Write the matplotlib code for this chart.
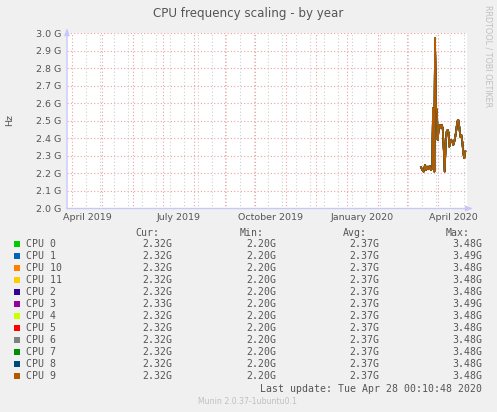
import matplotlib
matplotlib.use("Agg")
import matplotlib.pyplot as plt
import matplotlib.dates as mdates
from matplotlib.patches import Rectangle
import pandas as pd

W, H = 497, 412

# readings (GHz) taken off the year graph, same for every core
sample_times = [
    "2020-03-14 17:00", "2020-03-16 00:00", "2020-03-17 10:00", "2020-03-18 17:00",
    "2020-03-19 17:00", "2020-03-20 17:00", "2020-03-22 00:00", "2020-03-23 10:00",
    "2020-03-24 17:00", "2020-03-26 00:00", "2020-03-26 17:00", "2020-03-27 10:00",
    "2020-03-28 00:00", "2020-03-28 17:00", "2020-03-29 17:00", "2020-03-30 17:00",
    "2020-03-31 10:00", "2020-04-01 10:00", "2020-04-02 10:00", "2020-04-03 10:00",
    "2020-04-04 10:00", "2020-04-05 10:00", "2020-04-06 10:00", "2020-04-07 10:00",
    "2020-04-08 10:00", "2020-04-09 10:00", "2020-04-10 10:00", "2020-04-11 10:00",
    "2020-04-12 00:00", "2020-04-13 00:00", "2020-04-14 00:00", "2020-04-15 00:00",
    "2020-04-16 00:00", "2020-04-17 00:00", "2020-04-18 00:00", "2020-04-19 00:00",
    "2020-04-20 00:00", "2020-04-21 00:00", "2020-04-22 00:00", "2020-04-23 00:00",
    "2020-04-24 00:00", "2020-04-25 00:00", "2020-04-26 00:00", "2020-04-27 00:00",
    "2020-04-28 00:00",
]
freq_ghz = [
    2.236, 2.220, 2.211, 2.249, 2.220, 2.239, 2.224, 2.243, 2.220, 2.230,
    2.572, 2.562, 2.211, 2.971, 2.581, 2.544, 2.391, 2.458, 2.477, 2.458,
    2.477, 2.458, 2.344, 2.211, 2.373, 2.439, 2.448, 2.430, 2.353, 2.382,
    2.391, 2.382, 2.363, 2.382, 2.410, 2.448, 2.496, 2.505, 2.467, 2.410,
    2.420, 2.382, 2.315, 2.287, 2.325,
]

cpu_labels = ["CPU 0", "CPU 1", "CPU 10", "CPU 11", "CPU 2", "CPU 3",
              "CPU 4", "CPU 5", "CPU 6", "CPU 7", "CPU 8", "CPU 9"]
cpu_colors = ["#00CC00", "#0066B3", "#FF8000", "#FFCC00", "#330099", "#990099",
              "#CCFF00", "#FF0000", "#808080", "#008F00", "#00487D", "#B35A00"]
cur_vals = ["2.32G"] * 5 + ["2.33G"] + ["2.32G"] * 6
min_vals = ["2.20G"] * 12
avg_vals = ["2.37G"] * 12
max_vals = ["3.48G", "3.49G", "3.48G", "3.48G", "3.48G", "3.49G",
            "3.48G", "3.48G", "3.48G", "3.48G", "3.48G", "3.48G"]

y_ticks = [2.0, 2.1, 2.2, 2.3, 2.4, 2.5, 2.6, 2.7, 2.8, 2.9, 3.0]
x_label_dates = ["2019-04-16", "2019-07-16", "2019-10-16", "2020-01-16", "2020-04-16"]
x_label_text = ["April 2019", "July 2019", "October 2019", "January 2020", "April 2020"]

txt = "#555555"
bg = "#F0F0F0"


def fx(x):
    return x / W


def fy(y):
    return 1 - y / H


fig = plt.figure(figsize=(W / 100, H / 100), dpi=100, facecolor=bg)
ax = fig.add_axes([fx(67), fy(208.5), fx(467) - fx(67), fy(33.3) - fy(208.5)])
ax.set_facecolor("white")

t = pd.to_datetime(sample_times)
for lab, col in zip(cpu_labels, cpu_colors):
    ax.plot(t, freq_ghz, color=col, lw=1.2, solid_joinstyle="round")

ax.set_xlim(pd.Timestamp("2019-03-26 17:00"), pd.Timestamp("2020-04-29 17:00"))
ax.set_ylim(2.0, 3.0)

# horizontal grid every 0.1 G
for v in y_ticks:
    ax.axhline(v, color="#F0A0A0", lw=0.8, ls=(0, (1, 2)), zorder=0.5)

# vertical grid: grey every other week, red at month start
ax.xaxis.set_minor_locator(mdates.WeekdayLocator(byweekday=mdates.MO, interval=2))
ax.xaxis.set_major_locator(mdates.MonthLocator())
for d in ax.xaxis.get_minorticklocs():
    ax.axvline(d, color="#D0D0D0", lw=0.8, ls=(0, (1, 2)), zorder=0.4)
for d in ax.xaxis.get_majorticklocs():
    ax.axvline(d, color="#F0A0A0", lw=0.8, ls=(0, (1, 2)), zorder=0.5)

ax.set_xticks(pd.to_datetime(x_label_dates))
ax.set_xticklabels(x_label_text)
ax.xaxis.set_minor_locator(plt.NullLocator())
ax.set_yticks(y_ticks)
ax.set_yticklabels([f"{v:.1f} G" for v in y_ticks])
ax.tick_params(axis="both", labelsize=6.8, labelcolor=txt, length=0, pad=4)
ax.tick_params(axis="x", pad=3)

for s in ax.spines.values():
    s.set_visible(False)
axis_col = "#C8C8F8"
ax.annotate("", xy=(0, 1.03), xytext=(0, 0), xycoords="axes fraction",
            arrowprops=dict(arrowstyle="-|>,head_width=0.15,head_length=0.4",
                            color=axis_col, lw=1.0, shrinkA=0, shrinkB=0),
            annotation_clip=False)
ax.annotate("", xy=(1.015, 0), xytext=(0, 0), xycoords="axes fraction",
            arrowprops=dict(arrowstyle="-|>,head_width=0.15,head_length=0.4",
                            color=axis_col, lw=1.0, shrinkA=0, shrinkB=0),
            annotation_clip=False)

fig.text(fx(248), fy(13), "CPU frequency scaling - by year", ha="center", va="center",
         fontsize=8.6, color=txt)
fig.text(fx(10), fy(120), "Hz", rotation=90, ha="center", va="center",
         fontsize=6.8, color=txt)
fig.text(fx(488), fy(5), "RRDTOOL / TOBI OETIKER", rotation=270, ha="center", va="top",
         fontsize=5.8, color="#C0C0C0")

mono = dict(family="DejaVu Sans Mono", fontsize=7.1, color=txt, va="center")
fig.text(fx(159.5), fy(233), "Cur:", ha="right", **mono)
fig.text(fx(263.5), fy(233), "Min:", ha="right", **mono)
fig.text(fx(367), fy(233), "Avg:", ha="right", **mono)
fig.text(fx(470), fy(233), "Max:", ha="right", **mono)
for i, lab in enumerate(cpu_labels):
    yy = 244.3 + i * 12
    fig.add_artist(Rectangle((fx(14), fy(yy + 3)), fx(6), fy(0) - fy(6),
                             transform=fig.transFigure, color=cpu_colors[i], lw=0))
    fig.text(fx(26.5), fy(yy), lab, ha="left", **mono)
    fig.text(fx(172), fy(yy), cur_vals[i], ha="right", **mono)
    fig.text(fx(276), fy(yy), min_vals[i], ha="right", **mono)
    fig.text(fx(379), fy(yy), avg_vals[i], ha="right", **mono)
    fig.text(fx(482.5), fy(yy), max_vals[i], ha="right", **mono)
fig.text(fx(482.5), fy(388.5), "Last update: Tue Apr 28 00:10:48 2020", ha="right", **mono)
fig.text(fx(248), fy(401.5), "Munin 2.0.37-1ubuntu0.1", ha="center", va="center",
         fontsize=5.6, color="#C0C0C0")

fig.savefig("out.png", dpi=100, facecolor=bg)
